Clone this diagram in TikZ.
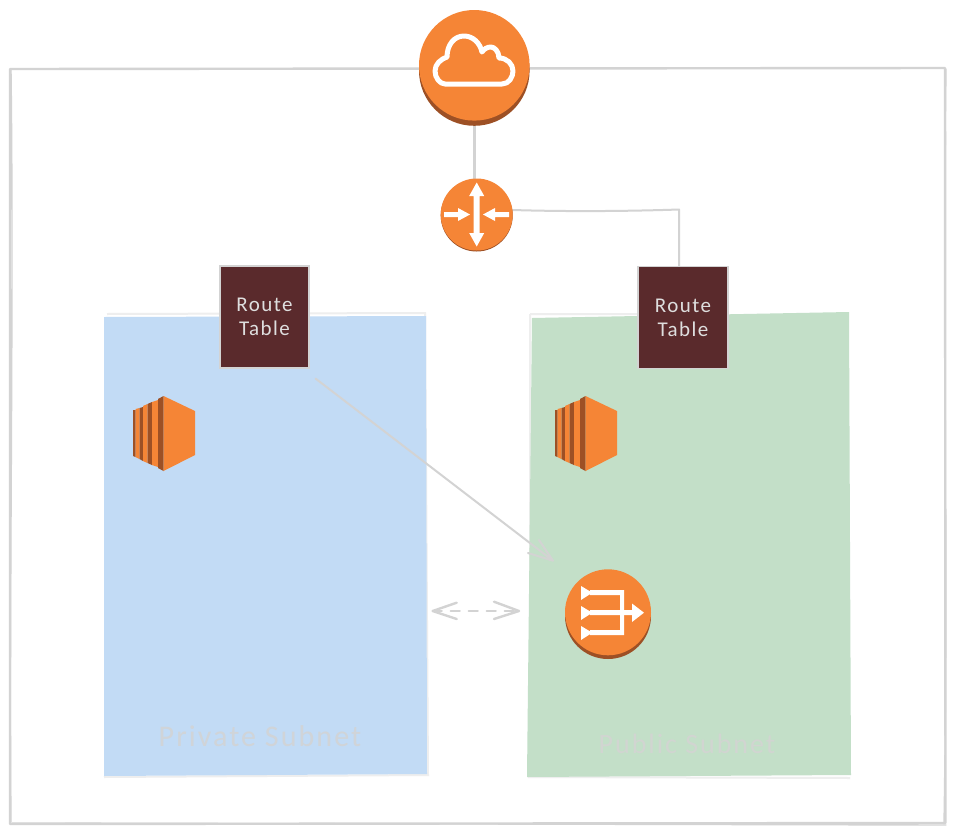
\documentclass[tikz,border=0pt]{standalone}
\usepackage{fontspec}
\usetikzlibrary{arrows.meta,backgrounds}
\newfontfamily\handfont[LetterSpace=7]{Carlito}
\definecolor{awsorange}{HTML}{F58536}
\definecolor{awsdark}{HTML}{9D5025}
\definecolor{sketchgrey}{HTML}{D3D3D3}
\definecolor{rtfill}{HTML}{5A2A2C}
\definecolor{rttext}{HTML}{DEDEDE}
\definecolor{bluefill}{HTML}{C2DBF5}
\definecolor{greenfill}{HTML}{C3DFC8}
\definecolor{paleedge}{HTML}{EEEEEE}
\tikzset{
  sketchline/.style={draw=sketchgrey,line width=2.4pt,line cap=round,line join=round},
  sketchthin/.style={draw=sketchgrey,line width=1.4pt,line cap=round},
  paleline/.style={draw=paleedge,line width=2pt},
  awscircle/.style={circle,fill=awsorange,inner sep=0pt,outer sep=0pt},
  routetable/.style={rectangle,fill=rtfill,draw=sketchgrey,line width=1.2pt,inner sep=0pt,
    minimum width=89pt,minimum height=102pt,text=rttext,align=center,
    font=\handfont\fontsize{21}{24}\selectfont},
  subnetlabel/.style={inner sep=0pt,font=\handfont\fontsize{30}{34}\selectfont},
  glyph/.style={fill=white},
  ec2icon/.pic={
    \fill[awsdark] (133,410) -- (135.5,410) -- (135.5,457) -- (133,456) -- cycle;
    \fill[awsorange] (135.5,409) -- (139.5,408) -- (139.5,459) -- (135.5,457) -- cycle;
    \fill[awsdark] (139.5,408) -- (143,407) -- (143,461) -- (139.5,459) -- cycle;
    \fill[awsorange] (143,406) -- (147.5,404) -- (147.5,463) -- (143,461) -- cycle;
    \fill[awsdark] (147.5,404) -- (152,402) -- (152,465) -- (147.5,463) -- cycle;
    \fill[awsorange] (152,402) -- (158,400) -- (158,467) -- (152,465) -- cycle;
    \fill[awsdark] (158,399) -- (163.5,396) -- (163.5,471) -- (158,468) -- cycle;
    \fill[awsorange] (163.5,396) -- (195,411) -- (195,455) -- (163.5,471) -- cycle;
  }
}
\begin{document}
\begin{tikzpicture}[x=1pt,y=-1pt]
\useasboundingbox (0,0) rectangle (954,833);

% icon shadows are laid under the circle nodes
\fill[awsdark] (474.3,70.5) circle[radius=55.3];
\fill[awsdark] (476.7,215.5) circle[radius=36];
\fill[awsdark] (608,616) circle[radius=43];

\node[awscircle,minimum size=110.6pt] (igw) at (474.3,65.3) {};
\node[awscircle,minimum size=72pt] (router) at (476.7,214.5) {};
\node[awscircle,minimum size=86pt] (nat) at (608,612.3) {};
\node[routetable] (rta) at (264.5,317) {Route\\Table};
\node[routetable,minimum width=90pt] (rtb) at (683,317.5) {Route\\Table};

\coordinate (natin) at (553,560.7);
\coordinate (peerl) at (432.7,611);
\coordinate (peerr) at (519,611);

% cloud glyph
\draw[white,line width=5pt,line join=round]
  (445,84) -- (502,84) .. controls (509,84) and (513,77) .. (513,71)
  .. controls (513,64) and (507,58) .. (499,58)
  .. controls (499,51) and (494,47) .. (491,47)
  .. controls (487,47) and (484,49) .. (482,52)
  .. controls (480,43) and (473,36) .. (464,36)
  .. controls (454,36) and (447,45) .. (447,57)
  .. controls (441,59) and (435,64) .. (435,71)
  .. controls (435,78) and (440,84) .. (445,84) -- cycle;

% router glyph
\fill[glyph] (476.7,182.5) -- (484.2,196) -- (479.7,196) -- (479.7,233) -- (484.2,233) -- (476.7,246.5)
  -- (469.2,233) -- (473.7,233) -- (473.7,196) -- (469.2,196) -- cycle;
\fill[glyph] (444,212) -- (458,212) -- (458,208) -- (470,214.5) -- (458,221) -- (458,217) -- (444,217) -- cycle;
\fill[glyph] (509,212) -- (495,212) -- (495,208) -- (483,214.5) -- (495,221) -- (495,217) -- (509,217) -- cycle;

% NAT glyph
\fill[glyph] (581,586) -- (592.3,592.7) -- (581,600) -- cycle;
\fill[glyph] (581,606) -- (592.3,612.7) -- (581,620) -- cycle;
\fill[glyph] (581,626) -- (592.3,632.7) -- (581,640) -- cycle;
\fill[glyph] (590,590) -- (624,590) -- (624,635) -- (590,635) -- (590,630) -- (620,630) -- (620,595) -- (590,595) -- cycle;
\fill[glyph] (590,610) -- (632,610) -- (632,603.5) -- (644,612.7) -- (632,622) -- (632,615) -- (590,615) -- cycle;

% EC2 icons
\pic {ec2icon};
\pic[xshift=422pt] {ec2icon};

% subnet labels
\node[subnetlabel,text=sketchgrey!85!bluefill] (privlabel) at (260,736) {Private Subnet};
\node[subnetlabel,text=sketchgrey!85!greenfill,font=\handfont\fontsize{28}{34}\selectfont] (publabel) at (687,744) {Public Subnet};

\begin{scope}[on background layer]
  \fill[white] (0,0) rectangle (954,833);
  % outer frame
  \draw[sketchline] (10,69) -- (945,68) -- (945.5,823) -- (10,824) -- cycle;
  \draw[sketchthin] (11,70) .. controls (14,300) and (9,600) .. (11,822);
  \draw[sketchthin] (946,69) .. controls (943,300) and (948,600) .. (944,824);
  \draw[sketchthin] (12,823) -- (946,825);
  % subnets
  \draw[paleline] (107,314) -- (425,313) -- (428,775) -- (104,777);
  \fill[bluefill] (104,317) -- (426,316) -- (427,774) -- (104,776) -- cycle;
  \draw[paleline] (530,314) -- (530,776) (530,314) -- (700,314) (528,777) -- (850,778);
  \fill[greenfill] (532,318) -- (849,312) -- (851,775) -- (527,777) -- cycle;
  % connectors
  \draw[sketchline] (igw) -- (igw |- router.north);
  \draw[sketchline,line width=2pt] ([yshift=4.5pt]router.east) .. controls (560,211.5) and (620,211.5) .. (679,209.5) -- ([xshift=-4pt]rtb.north);
  \draw[sketchline,line width=2pt]
    ([shift={(6pt,-10pt)}]rta.south east) -- (natin) ++(-14,-20.7) -- (natin) -- ++(-25,-7.7);
  \draw[sketchline,dash pattern=on 9pt off 9pt] (peerl) -- (peerr);
  \draw[sketchline] (peerl) ++(24,-8.3) -- (peerl) -- ++(24,8);
  \draw[sketchline] (peerr) ++(-25,-9.3) -- (peerr) -- ++(-25,8);
\end{scope}
\end{tikzpicture}
\end{document}
